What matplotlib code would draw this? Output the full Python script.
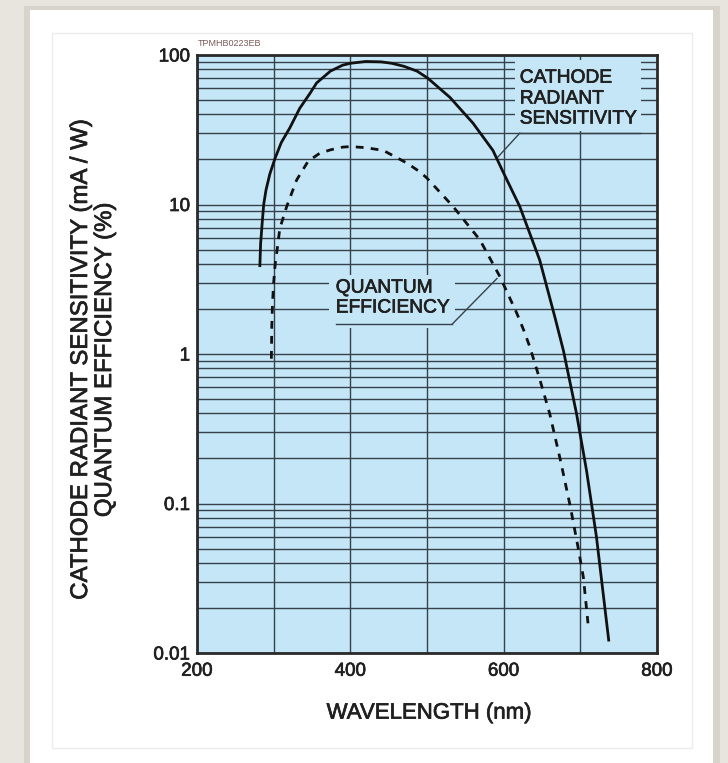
import numpy as np
import matplotlib
matplotlib.use("Agg")
import matplotlib.pyplot as plt
import matplotlib.patheffects as pe
from matplotlib.patches import Rectangle
from matplotlib.ticker import LogLocator, NullFormatter

plt.rcParams['font.family'] = ['Liberation Sans', 'DejaVu Sans']

# Cathode radiant sensitivity (mA/W)
wl_cathode = [282, 283, 285, 287, 290, 295, 302, 310, 321, 334, 347, 356, 374, 390,
              400, 420, 440, 454, 470, 487, 501, 530, 560, 586, 600, 621, 647, 667,
              678, 695, 708, 721, 737]
cathode_sens = [3.9, 5.5, 7.5, 10.0, 12.5, 16.0, 20.5, 26.0, 32.5, 44.0, 55.0, 65.0,
                78.0, 85.5, 88.0, 90.5, 90.0, 88.0, 84.0, 78.0, 70.0, 52.0, 35.0,
                23.0, 16.2, 9.7, 4.25, 1.75, 1.05, 0.40, 0.167, 0.06, 0.0122]

# Quantum efficiency (%)
wl_qe = [297, 297.5, 298.5, 300, 302, 305, 308, 317, 330, 345, 360, 374, 390, 400,
         420, 443, 474, 491, 500, 534, 569, 595, 617, 626, 634, 647, 660, 674, 687,
         697, 704, 710]
quantum_eff = [0.93, 1.5, 2.2, 3.0, 4.0, 5.2, 6.9, 9.7, 14.6, 19.5, 22.0, 23.2, 24.2,
               24.4, 24.0, 23.0, 18.9, 16.5, 15.0, 9.7, 5.8, 3.3, 1.88, 1.45, 1.12, 0.68,
               0.40, 0.195, 0.095, 0.051, 0.032, 0.0158]

x_ticks = [200, 400, 600, 800]
x_minor = [300, 500, 700]
y_ticks = [0.01, 0.1, 1, 10, 100]
y_tick_labels = ['0.01', '0.1', '1', '10', '100']

W, H = 728, 763
bg_blue = '#c5e6f7'
grid_col = '#36424b'
ink = '#202020'
heavy = [pe.withStroke(linewidth=0.5, foreground=ink)]

fig = plt.figure(figsize=(W / 100, H / 100), dpi=100)
fig.patch.set_facecolor('#e8e4de')

# white card with a soft shadow and a faint inner frame
fig.add_artist(Rectangle((24 / W, 0), 696 / W, 757 / H, transform=fig.transFigure,
                         facecolor='#d8d3cb', edgecolor='none', zorder=-3))
fig.add_artist(Rectangle((30 / W, 0), 683 / W, 753 / H, transform=fig.transFigure,
                         facecolor='white', edgecolor='none', zorder=-2))
fig.add_artist(Rectangle((52 / W, 1 - 748 / H), 640 / W, 715 / H, transform=fig.transFigure,
                         fill=False, edgecolor='#ebebeb', lw=1, zorder=-1))

ax = fig.add_axes([197 / W, 1 - 653 / H, 460 / W, 598 / H])
ax.set_facecolor(bg_blue)
ax.set_yscale('log')
ax.set_xlim(200, 800)
ax.set_ylim(0.01, 100)

ax.set_xticks(x_ticks)
ax.set_xticks(x_minor, minor=True)
ax.set_yticks(y_ticks)
ax.set_yticklabels(y_tick_labels)
ax.yaxis.set_minor_locator(LogLocator(base=10, subs=np.arange(2, 10)))
ax.yaxis.set_minor_formatter(NullFormatter())

ax.set_axisbelow(True)
ax.grid(True, which='both', color=grid_col, lw=1.0)
ax.tick_params(which='both', length=0, labelsize=13.5, colors=ink)
ax.tick_params(axis='y', pad=5)
ax.tick_params(axis='x', pad=7)
for lab in ax.get_xticklabels() + ax.get_yticklabels():
    lab.set_path_effects(heavy)
for s in ax.spines.values():
    s.set_linewidth(2.0)
    s.set_color('#2a2a2a')

# curves
ax.plot(wl_cathode, cathode_sens, color='#111111', lw=2.0, zorder=3)
ax.plot(wl_qe, quantum_eff, color='#111111', lw=2.0, zorder=3,
        linestyle=(0, (2.8, 2.6)), dash_capstyle='butt')

# label boxes hide the grid behind the text
ax.add_patch(Rectangle((615, 31), 164, 61, facecolor=bg_blue, edgecolor='none', zorder=1))
ax.add_patch(Rectangle((372, 1.49), 164.5, 1.88, facecolor=bg_blue, edgecolor='none', zorder=1))

txt = dict(fontsize=13.8, color=ink, ha='left', va='center', zorder=4, path_effects=heavy)
ax.text(621, 70, 'CATHODE', **txt)
ax.text(621, 50.8, 'RADIANT', **txt)
ax.text(621, 37.3, 'SENSITIVITY', **txt)
ax.plot([621, 778], [30, 30], color=grid_col, lw=1.0, zorder=2)
ax.plot([621, 592.6], [30, 20.8], color=grid_col, lw=1.0, zorder=2)

ax.text(381, 2.76, 'QUANTUM', **txt)
ax.text(381, 2.03, 'EFFICIENCY', **txt)
ax.plot([381, 532.6], [1.58, 1.58], color=grid_col, lw=1.0, zorder=2)
ax.plot([532.6, 591.3], [1.58, 3.2], color=grid_col, lw=1.0, zorder=2)

ax.set_xlabel('WAVELENGTH (nm)', fontsize=16, color=ink, path_effects=heavy)
ax.xaxis.set_label_coords(0.505, -0.083)

ax.set_ylabel('CATHODE RADIANT SENSITIVITY (mA / W)\nQUANTUM EFFICIENCY (%)',
              fontsize=17.3, color=ink, linespacing=1.12, va='center', path_effects=heavy)
ax.yaxis.set_label_coords(-0.226, 0.49)

fig.text(198 / W, 1 - 43 / H, 'TPMHB0223EB', fontsize=6.5, color='#7a5a5a',
         ha='left', va='center')

fig.savefig('out.png', dpi=100, facecolor=fig.get_facecolor())
